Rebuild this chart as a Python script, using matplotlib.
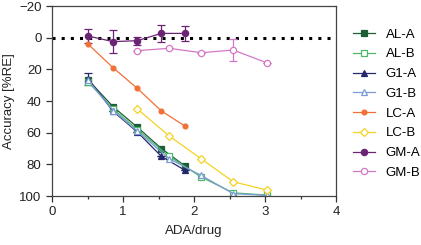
import matplotlib
matplotlib.use("Agg")
import matplotlib.pyplot as plt
from matplotlib.ticker import MultipleLocator
from matplotlib.lines import Line2D

plt.rcParams['font.family'] = ['Liberation Sans', 'DejaVu Sans']

x_a = [0.51, 0.86, 1.20, 1.54, 1.87]
x_b = [0.51, 0.86, 1.20, 1.65, 2.10, 2.55, 3.02]
x_b2 = [1.20, 1.65, 2.10, 2.55, 3.02]

al_a = [26.7, 43.6, 56.5, 70.0, 81.0]
al_b = [28.0, 45.0, 58.0, 75.0, 88.0, 98.0, 99.4]
g1_a = [26.0, 46.5, 59.5, 75.0, 83.7]
g1_a_err = [4.0, 0, 0, 0, 0]
g1_b = [27.0, 46.0, 59.0, 76.5, 87.0, 98.5, 99.6]
lc_a = [4.2, 19.0, 32.0, 46.3, 55.8]
lc_b = [45.0, 62.1, 76.5, 91.0, 96.2]
gm_a = [-1.0, 2.5, 1.9, -2.7, -2.7]
gm_a_err = [4.3, 7.4, 2.6, 5.2, 4.8]
gm_b = [8.2, 6.7, 9.5, 7.8, 15.8]
gm_b_err = [0, 0, 0, 7.1, 0]

labels = ['AL-A', 'AL-B', 'G1-A', 'G1-B', 'LC-A', 'LC-B', 'GM-A', 'GM-B']

fig = plt.figure(figsize=(4.21, 2.45), dpi=100)
ax = fig.add_axes([0.1235, 0.2, 0.675, 0.7755])

ax.plot([0, 4], [0, 0], color='black', linestyle=(0, (1, 2)), linewidth=2.2, zorder=1)

lw = 0.9
ms = 4.5
series = [
    (x_a, al_a, None, 's', '#1d5e38', True),
    (x_b, al_b, None, 's', '#4cb86a', False),
    (x_a, g1_a, g1_a_err, '^', '#26286e', True),
    (x_b, g1_b, None, '^', '#7a9ad6', False),
    (x_a, lc_a, None, 'o', '#f07035', True),
    (x_b2, lc_b, None, 'D', '#f5d224', False),
    (x_a, gm_a, gm_a_err, 'o', '#6b2474', True),
    (x_b2, gm_b, gm_b_err, 'o', '#d478c6', False),
]
handles = []
for (xs, ys, err, mk, col, filled), lab in zip(series, labels):
    m = ms
    if lab == 'LC-A':
        m = 3.5
    fc = col if filled else 'white'
    ax.errorbar(xs, ys, yerr=err, marker=mk, color=col, linewidth=lw,
                markersize=m, markerfacecolor=fc,
                markeredgecolor=col, markeredgewidth=0.9, capsize=3,
                elinewidth=0.9)
    handles.append(Line2D([], [], marker=mk, color=col, linewidth=lw,
                          markersize=m, markerfacecolor=fc,
                          markeredgecolor=col, markeredgewidth=0.9))

ax.set_xlim(0, 4)
ax.set_ylim(100, -20)
ax.xaxis.set_major_locator(MultipleLocator(1))
ax.xaxis.set_minor_locator(MultipleLocator(0.5))
ax.yaxis.set_major_locator(MultipleLocator(20))
ax.tick_params(axis='both', which='major', direction='out', length=4, width=0.9,
               labelsize=9.5, colors='#333333', labelcolor='#222222')
ax.tick_params(axis='x', which='minor', direction='out', length=2.5, width=0.9, colors='#333333')
for s in ax.spines.values():
    s.set_color('#444444')
    s.set_linewidth(0.9)

ax.set_xlabel('ADA/drug', fontsize=9.5, color='#222222', labelpad=5)
ax.set_ylabel('Accuracy [%RE]', fontsize=9.5, color='#222222', labelpad=3)

fig.legend(handles, labels, loc='upper left', bbox_to_anchor=(0.8385, 0.884),
           frameon=False, fontsize=9.5, handlelength=1.67, labelspacing=0.57,
           handletextpad=0.8, borderpad=0, borderaxespad=0)

fig.savefig('out.png', dpi=100)
